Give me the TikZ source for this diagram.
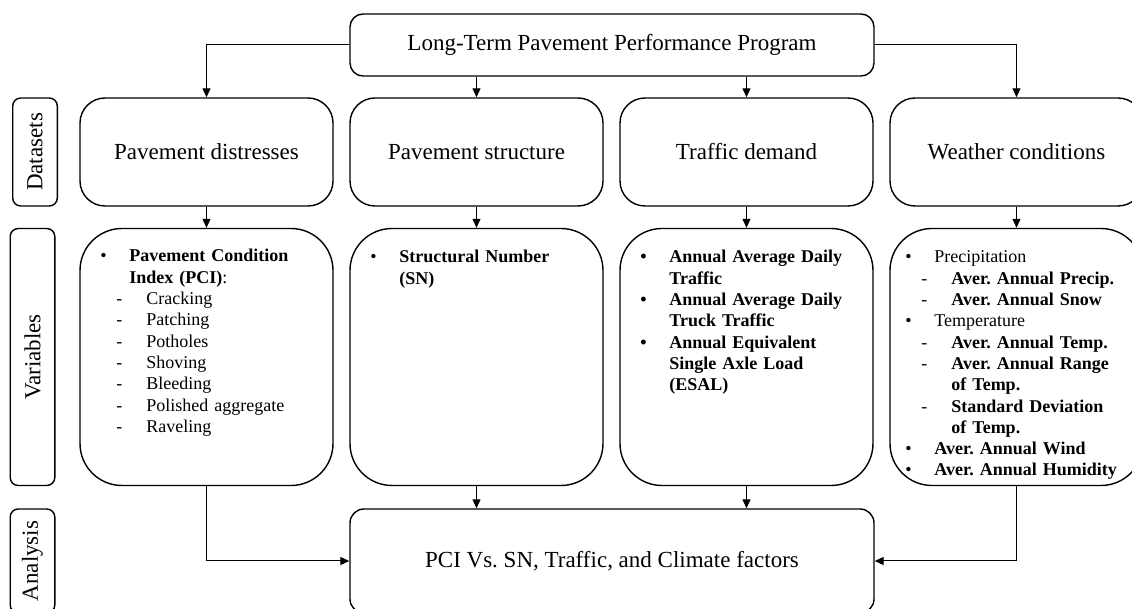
\documentclass[tikz,border=0pt]{standalone}
\usepackage{fontspec}
\setmainfont{Liberation Serif}
\frenchspacing
\usetikzlibrary{arrows.meta}
\tikzset{
	blk/.style = {draw=black, line width=0.7pt, align=center, inner sep=0pt,
		font=\fontsize{11.5}{13.8}\selectfont},
	blk_top/.style = {blk, rounded corners=6.5pt, minimum width=262pt,
		minimum height=31pt},
	blk_ds/.style = {blk, rounded corners=12.5pt, minimum width=126.5pt,
		minimum height=54pt},
	blk_var/.style = {blk, rounded corners=21pt, minimum width=126.5pt,
		minimum height=128.5pt},
	blk_an/.style = {blk, rounded corners=7pt, minimum width=262pt,
		minimum height=52pt},
	blk_side/.style = {blk, rotate=90, rounded corners=4pt, minimum height=22.3pt},
	lst/.style = {anchor=base west, inner sep=0pt, text width=125pt, align=left,
		font=\fontsize{9}{10.65}\selectfont},
	link/.style = {line width=0.5pt}
}
% list lines: bullet, bullet continuation, dash, dash continuation
\newcommand{\itb}[1]{\makebox[14.5pt][l]{\textbullet}#1}
\newcommand{\itbc}[1]{\hspace*{14.5pt}#1}
\newcommand{\itd}[1]{\hspace*{8pt}\makebox[15pt][l]{-}#1}
\newcommand{\itdc}[1]{\hspace*{23pt}#1}

\begin{document}
\begin{tikzpicture}[x=0.5pt, y=-0.5pt, ->, >={Triangle[length=4.5pt,width=4pt]}]
\useasboundingbox (0,0) rectangle (1132,609);

% rows
\node [blk_side, minimum width=54pt] (sd_ds) at (35,152) {Datasets};
\node [blk_side, minimum width=128.5pt] (sd_var) at (32.5,357) {Variables};
\node [blk_side, minimum width=52pt] (sd_an) at (32.5,561) {Analysis};

\node [blk_top] (top) at (612,45) {Long-Term Pavement Performance Program};

\node [blk_ds] (ds1) at (206.5,152) {Pavement distresses};
\node [blk_ds] (ds2) at (476.5,152) {Pavement structure};
\node [blk_ds] (ds3) at (746.5,152) {Traffic demand};
\node [blk_ds] (ds4) at (1016.5,152) {Weather conditions};

\node [blk_var] (var1) at (206.5,357) {};
\node [blk_var] (var2) at (476.5,357) {};
\node [blk_var] (var3) at (746.5,357) {};
\node [blk_var] (var4) at (1016.5,357) {};

\node [blk_an] (an) at (612,561) {PCI Vs. SN, Traffic, and Climate factors};

% variable lists
\node [lst] (l1) at (100,262) {\itb{\textbf{Pavement Condition}}\\
	\itbc{\textbf{Index (PCI)}:}\\
	\itd{Cracking}\\ \itd{Patching}\\ \itd{Potholes}\\ \itd{Shoving}\\
	\itd{Bleeding}\\ \itd{Polished aggregate}\\ \itd{Raveling}};
\node [lst] (l2) at (370,263) {\itb{\textbf{Structural Number}}\\
	\itbc{\textbf{(SN)}}};
\node [lst] (l3) at (640,263) {\bfseries \itb{Annual Average Daily}\\
	\itbc{Traffic}\\ \itb{Annual Average Daily}\\ \itbc{Truck Traffic}\\
	\itb{Annual Equivalent}\\ \itbc{Single Axle Load}\\ \itbc{(ESAL)}};
\node [lst] (l4) at (905,263) {\itb{Precipitation}\\
	\itd{\textbf{Aver. Annual Precip.}}\\ \itd{\textbf{Aver. Annual Snow}}\\
	\itb{Temperature}\\
	\itd{\textbf{Aver. Annual Temp.}}\\ \itd{\textbf{Aver. Annual Range}}\\
	\itdc{\textbf{of Temp.}}\\ \itd{\textbf{Standard Deviation}}\\
	\itdc{\textbf{of Temp.}}\\
	\itb{\textbf{Aver. Annual Wind}}\\ \itb{\textbf{Aver. Annual Humidity}}};

% connectors
\draw [link] (top.west) -| (ds1.north);
\draw [link] (top.east) -| (ds4.north);
\draw [link] (top.south -| ds2.north) -- (ds2.north);
\draw [link] (top.south -| ds3.north) -- (ds3.north);
\foreach \i in {1,...,4}
	\draw [link] (ds\i.south) -- (var\i.north);
\draw [link] (var2.south) -- (var2.south |- an.north);
\draw [link] (var3.south) -- (var3.south |- an.north);
\draw [link] (var1.south) |- (an.west);
\draw [link] (var4.south) |- (an.east);
\end{tikzpicture}
\end{document}
